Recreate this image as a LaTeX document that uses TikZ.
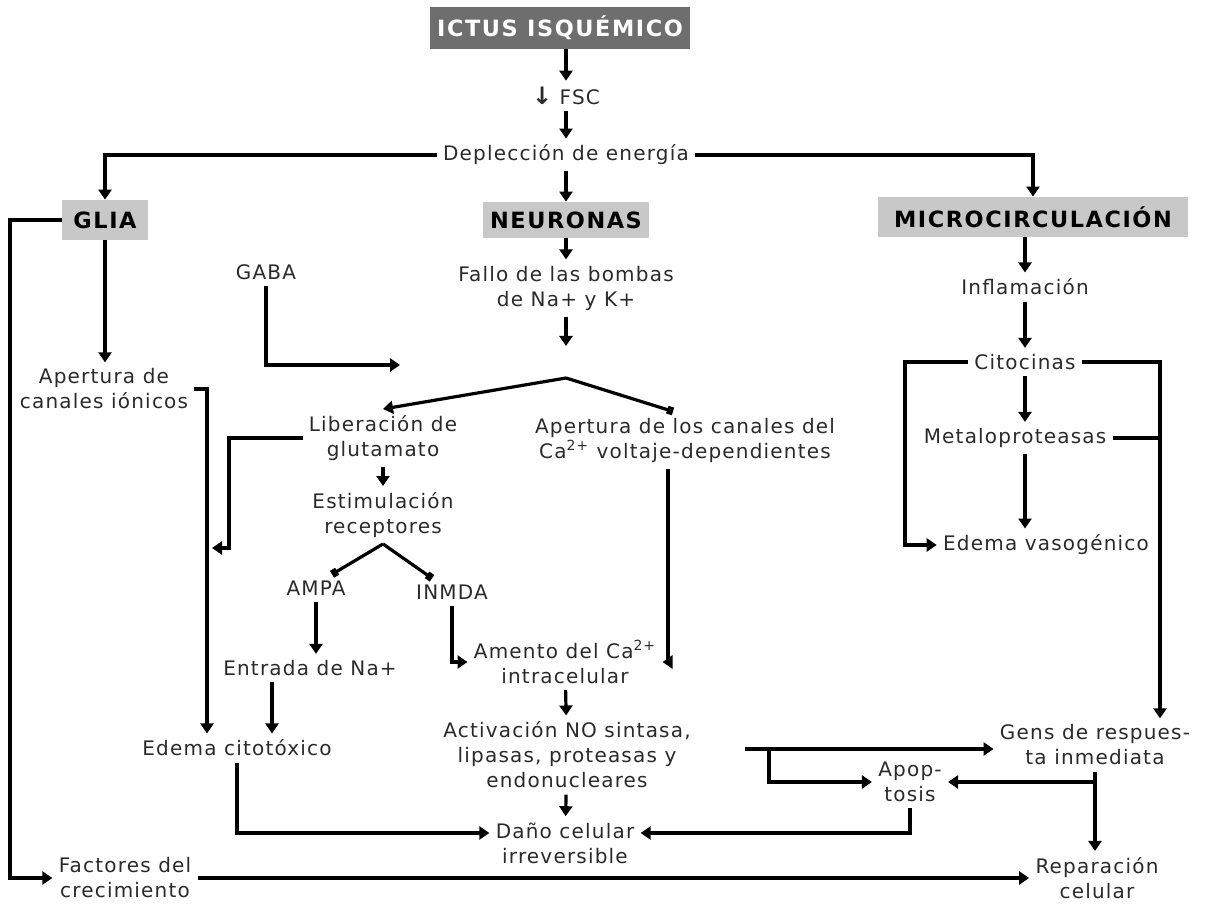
\documentclass[tikz,border=0pt]{standalone}
\usepackage{fontspec}
\usepackage{xcolor}
\usepackage{tikz}
\usetikzlibrary{arrows.meta}
\setmainfont{DejaVu Sans}[LetterSpace=6]
\newfontfamily\hdrfont{DejaVu Sans}[LetterSpace=7]
\definecolor{darkbox}{HTML}{6E6E6E}
\definecolor{lightbox}{HTML}{C8C8C8}
\definecolor{txtgray}{HTML}{2A2A2A}
\tikzset{
	txt/.style={align=center, inner sep=3pt, text=txtgray, font=\fontsize{10}{12.5}\selectfont},
	hdr/.style={fill=lightbox, inner sep=0pt, text=black, font=\hdrfont\bfseries\fontsize{11.2}{12}\selectfont},
	arr/.style={line width=1.6pt, -{Triangle[length=5pt,width=6.5pt]}},
	sqarr/.style={line width=1.6pt, -{Square[length=3pt,width=4pt]}},
	ln/.style={line width=1.6pt}
}
\begin{document}
\begin{tikzpicture}[x=0.5pt,y=-0.5pt]
				\useasboundingbox (0,0) rectangle (1206,908);

				\node[hdr, fill=darkbox, text=white, minimum width=130pt, minimum height=21pt] (ictus) at (560,28) {ICTUS ISQUÉMICO};
				\node[txt] (fsc) at (566,96) {{\bfseries\fontsize{12}{12}\selectfont ↓} FSC};
				\node[txt] (deplec) at (566,155) {Deplección de energía};
				\node[hdr, minimum width=43pt, minimum height=20pt] (glia) at (105,220) {GLIA};
				\node[hdr, minimum width=83pt, minimum height=18pt] (neur) at (566,220) {NEURONAS};
				\node[hdr, minimum width=155pt, minimum height=20pt] (micro) at (1033,217) {MICROCIRCULACIÓN};

				\node[txt] (gaba) at (266,272) {GABA};
				\node[txt] (fallo) at (566,288) {Fallo de las bombas\\de Na+ y K+};
				\node[txt] (infl) at (1025,287) {Inflamación};
				\node[txt] (cito) at (1025,362) {Citocinas};
				\node[txt] (apcan) at (104,389) {Apertura de\\canales iónicos};
				\node[txt] (liber) at (383,438) {Liberación de\\glutamato};
				\node[txt] (apca) at (685,440) {Apertura de los canales del\\Ca\textsuperscript{2+} voltaje-dependientes};
				\node[txt] (metal) at (1015,438) {Metaloproteasas};
				\node[txt] (estim) at (383,515) {Estimulación\\receptores};
				\node[txt] (edvaso) at (1046,545) {Edema vasogénico};
				\node[txt] (ampa) at (316,588) {AMPA};
				\node[txt] (inmda) at (452,592) {INMDA};
				\node[txt] (entrada) at (310,668) {Entrada de Na+};
				\node[txt] (amento) at (565,662) {Amento del Ca\textsuperscript{2+}\\intracelular};
				\node[txt] (edcito) at (237,748) {Edema citotóxico};
				\node[txt] (activ) at (567,755) {Activación NO sintasa,\\lipasas, proteasas y\\endonucleares};
				\node[txt] (gens) at (1095,745) {Gens de respues-\\ta inmediata};
				\node[txt] (apop) at (910,782) {Apop-\\tosis};
				\node[txt] (dano) at (565,843) {Daño celular\\irreversible};
				\node[txt] (factores) at (125,878) {Factores del\\crecimiento};
				\node[txt] (rep) at (1097,878) {Reparación\\celular};

				\coordinate (split) at (566,378);
				\coordinate (lbar) at (10,0);
				\coordinate (cx) at (207,0);
				\coordinate (j1) at (212,548);
				\coordinate (j1e) at (229,548);
				\coordinate (j2) at (400,365);
				\coordinate (cy) at (668,0);
				\coordinate (cl) at (905,0);
				\coordinate (cr) at (1160,0);

				\draw[arr] (fsc.north |- ictus.south) -- (fsc.north);
				\draw[arr] (fsc) -- (deplec);
				\draw[arr] (deplec.west) -| (glia.north);
				\draw[arr] (deplec.east) -| (micro.north);
				\draw[arr] (deplec) -- (neur);
				\draw[arr] (glia.west) -- (glia.west -| lbar) |- (factores.west);
				\draw[arr] (glia.south) -- (glia.south |- apcan.north);
				\draw[arr] (neur) -- (fallo);
				\draw[arr] (gaba.south) |- (j2);
				\draw[arr] (fallo.south) -- ([yshift=16pt]split);
				\draw[arr] (split) -- (liber.north);
				\draw[sqarr] (split) -- ([xshift=-6pt]apca.north);
				\draw[arr] (apcan.east) -| (cx |- edcito.north);
				\draw[arr] (liber.west) -| (j1e) -- (j1);
				\draw[arr] (liber) -- (estim);
				\draw[arr] (apca.south -| cy) |- (amento.east);
				\draw[sqarr] (estim.south) -- ([xshift=8pt]ampa.north);
				\draw[sqarr] (estim.south) -- ([xshift=-10pt]inmda.north);
				\draw[arr] (ampa.south) -- (ampa.south |- entrada.north);
				\draw[arr] (inmda.south) |- (amento.west);
				\draw[arr] ([xshift=-19pt]entrada.south) -- ([xshift=-19pt]entrada.south |- edcito.north);
				\draw[arr] (edcito.south) |- ([yshift=5pt]dano.west);
				\draw[arr] (amento) -- (activ);
				\draw[arr] (activ) -- (dano);
				\draw[arr] ([xshift=24pt,yshift=3pt]activ.east) -- ([yshift=3pt]activ.east -| gens.west);
				\draw[arr] ([xshift=36pt,yshift=3pt]activ.east) |- (apop.west);
				\draw[arr] (apop.south) |- ([yshift=5pt]dano.east);
				\draw[arr] (gens.south) -- (gens.south |- rep.north);
				\draw[arr] (gens.south |- apop.east) -- (apop.east);
				\draw[arr] (factores.east) -- (rep.west);

				\draw[arr] (micro.south -| infl) -- (infl);
				\draw[arr] (infl) -- (cito);
				\draw[arr] (cito.south) -- (cito.south |- metal.north);
				\draw[arr] (metal.south -| cito) -- (cito |- edvaso.north);
				\draw[arr] (cito.west) -- (cito.west -| cl) |- (edvaso.west);
				\draw[arr] (cito.east) -| (cr |- gens.north);
				\draw[ln] (metal.east) -- (metal.east -| cr);
\end{tikzpicture}
\end{document}
